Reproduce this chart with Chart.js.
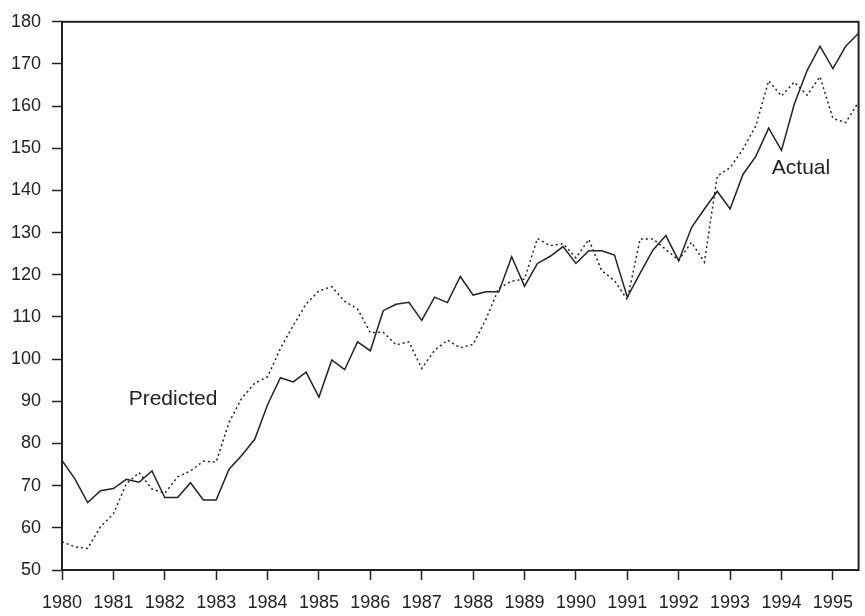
<!DOCTYPE html>
<html>
<head>
<meta charset="utf-8">
<script src="https://cdn.jsdelivr.net/npm/chart.js@4/dist/chart.umd.min.js"></script>
<style>
  html, body { margin: 0; padding: 0; background: #fff; }
  #wrap { width: 865px; height: 616px; }
</style>
</head>
<body>
<div id="wrap"><canvas id="chart" width="865" height="616"></canvas></div>
<script>
// Quarterly series, 1980Q1 .. 1995Q3
const firstYear = 1980;
const yearTicks = [1980, 1981, 1982, 1983, 1984, 1985, 1986, 1987, 1988, 1989, 1990, 1991, 1992, 1993, 1994, 1995];
const valueTicks = [50, 60, 70, 80, 90, 100, 110, 120, 130, 140, 150, 160, 170, 180];

const actual = [
  76.0, 71.6, 66.0, 68.8, 69.3, 71.5, 70.8, 73.5,
  67.2, 67.2, 70.7, 66.6, 66.6, 73.9, 77.2, 81.0,
  89.2, 95.6, 94.6, 96.9, 91.0, 99.8, 97.5, 104.1,
  102.0, 111.5, 113.0, 113.5, 109.2, 114.7, 113.4, 119.6,
  115.2, 116.0, 116.0, 124.3, 117.3, 122.7, 124.4, 126.7,
  122.7, 125.7, 125.7, 124.7, 114.7, 120.4, 125.9, 129.3,
  123.3, 131.2, 135.6, 139.8, 135.6, 143.8, 148.1, 154.8,
  149.5, 160.5, 168.5, 174.2, 168.9, 174.2, 177.3
];

const predicted = [
  56.7, 55.5, 55.1, 60.3, 63.3, 70.4, 73.1, 69.2,
  68.2, 72.1, 73.5, 75.8, 75.6, 85.0, 90.8, 94.3,
  95.8, 102.5, 108.0, 113.1, 116.2, 117.2, 113.7, 111.9,
  106.3, 106.4, 103.4, 104.1, 97.8, 102.1, 104.5, 102.7,
  103.5, 109.5, 116.8, 118.5, 119.0, 128.6, 126.9, 127.4,
  124.0, 128.4, 121.0, 118.6, 114.1, 128.5, 128.5, 126.0,
  123.5, 127.7, 123.0, 143.4, 145.4, 149.8, 155.3, 166.0,
  162.4, 165.7, 162.6, 167.0, 157.1, 156.1, 161.0
];

// Series captions placed in data space
const captions = [
  { text: 'Predicted', x: 1982.16, y: 90.4 },
  { text: 'Actual', x: 1994.38, y: 145.4 }
];

const ink = '#222';
const fontFamily = '"Liberation Sans", Arial, Helvetica, sans-serif';

const toPoints = arr => arr.map((v, i) => ({ x: firstYear + i / 4, y: v }));

const framePlugin = {
  id: 'frame',
  afterDatasetsDraw(chart) {
    const { ctx, chartArea: a } = chart;
    ctx.save();
    ctx.strokeStyle = ink;
    ctx.lineWidth = 2;
    ctx.strokeRect(a.left, a.top, a.right - a.left, a.bottom - a.top);
    ctx.restore();
  }
};

const captionPlugin = {
  id: 'captions',
  afterDatasetsDraw(chart) {
    const { ctx, scales } = chart;
    ctx.save();
    ctx.fillStyle = ink;
    ctx.font = '21px ' + fontFamily;
    ctx.textAlign = 'center';
    ctx.textBaseline = 'middle';
    captions.forEach(c => {
      ctx.fillText(c.text, scales.x.getPixelForValue(c.x), scales.y.getPixelForValue(c.y));
    });
    ctx.restore();
  }
};

new Chart(document.getElementById('chart'), {
  type: 'line',
  data: {
    datasets: [
      {
        label: 'Actual',
        data: toPoints(actual),
        borderColor: ink,
        borderWidth: 1.5,
        pointRadius: 0,
        tension: 0,
        fill: false
      },
      {
        label: 'Predicted',
        data: toPoints(predicted),
        borderColor: ink,
        borderWidth: 1.5,
        borderDash: [2, 3],
        pointRadius: 0,
        tension: 0,
        fill: false
      }
    ]
  },
  options: {
    responsive: false,
    animation: false,
    devicePixelRatio: 1,
    layout: { padding: { top: 15, right: 3, left: 0, bottom: 0 } },
    plugins: {
      legend: { display: false },
      tooltip: { enabled: false }
    },
    scales: {
      x: {
        type: 'linear',
        min: firstYear,
        max: firstYear + (actual.length - 1) / 4,
        afterBuildTicks(scale) {
          scale.ticks = yearTicks.map(v => ({ value: v }));
        },
        afterFit(scale) { scale.height = 46; },
        border: { display: false },
        grid: {
          drawOnChartArea: false,
          drawTicks: true,
          tickLength: 10,
          tickColor: ink,
          tickWidth: 1.5
        },
        ticks: {
          autoSkip: false,
          maxRotation: 0,
          padding: 12,
          color: ink,
          font: { family: fontFamily, size: 18 },
          callback: v => String(v)
        }
      },
      y: {
        type: 'linear',
        min: 50,
        max: 180,
        afterBuildTicks(scale) {
          scale.ticks = valueTicks.map(v => ({ value: v }));
        },
        afterFit(scale) { scale.width = 62; },
        border: { display: false },
        grid: {
          drawOnChartArea: false,
          drawTicks: true,
          tickLength: 10,
          tickColor: ink,
          tickWidth: 1.5
        },
        ticks: {
          autoSkip: false,
          padding: 11,
          color: ink,
          font: { family: fontFamily, size: 18 },
          callback: v => String(v)
        }
      }
    }
  },
  plugins: [framePlugin, captionPlugin]
});
</script>
</body>
</html>
